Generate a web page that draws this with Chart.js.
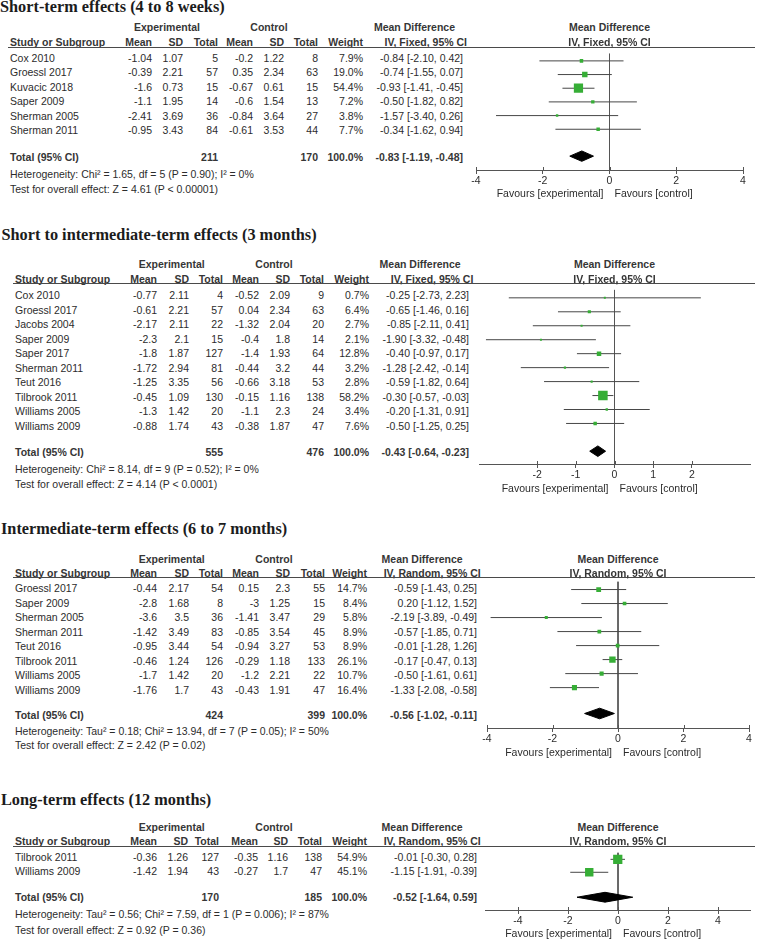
<!DOCTYPE html>
<html>
<head>
<meta charset="utf-8">
<title>Forest plots</title>
<script src="https://cdn.jsdelivr.net/npm/chart.js@4.4.1/dist/chart.umd.min.js"></script>
<style>
  body { margin: 0; background: #fff; }
  #page { position: relative; width: 761px; height: 940px; overflow: hidden;
          font-family: "Liberation Sans", Arial, sans-serif; font-size: 10.5px; color: #2c2c2c; }
  .tx { position: absolute; white-space: nowrap; line-height: 12px; transform: translateY(-50%); }
  .tx.c { transform: translate(-50%, -50%); }
  .b { font-weight: bold; color: #363636; }
  .ttl { font-family: "Liberation Serif", "Times New Roman", serif; font-weight: bold;
         font-size: 16.3px; line-height: 18px; color: #1c1c1c; }
  .rule { position: absolute; height: 0; border-top: 1px solid #4a4a4a; }
  .plot { position: absolute; }
</style>
</head>
<body>
<div id="page"></div>
<script>
// Short-term effects (4 to 8 weeks)
const stStudies = ['Cox 2010', 'Groessl 2017', 'Kuvacic 2018', 'Saper 2009', 'Sherman 2005', 'Sherman 2011'];
const stExpMean = [-1.04, -0.39, -1.6, -1.1, -2.41, -0.95];
const stExpSd   = [1.07, 2.21, 0.73, 1.95, 3.69, 3.43];
const stExpN    = [5, 57, 15, 14, 36, 84];
const stCtlMean = [-0.2, 0.35, -0.67, -0.6, -0.84, -0.61];
const stCtlSd   = [1.22, 2.34, 0.61, 1.54, 3.64, 3.53];
const stCtlN    = [8, 63, 15, 13, 27, 44];
const stWeight  = [7.9, 19.0, 54.4, 7.2, 3.8, 7.7];
const stMd      = [-0.84, -0.74, -0.93, -0.50, -1.57, -0.34];
const stLo      = [-2.10, -1.55, -1.41, -1.82, -3.40, -1.62];
const stHi      = [0.42, 0.07, -0.45, 0.82, 0.26, 0.94];
const stTotalN  = [211, 170];
const stPooled  = [-0.83, -1.19, -0.48];
const stHet  = 'Heterogeneity: Chi² = 1.65, df = 5 (P = 0.90); I² = 0%';
const stTest = 'Test for overall effect: Z = 4.61 (P < 0.00001)';
const stTicks = [-4, -2, 0, 2, 4];
const stTickLabels = ['-4', '-2', '0', '2', '4'];

// Short to intermediate-term effects (3 months)
const siStudies = ['Cox 2010', 'Groessl 2017', 'Jacobs 2004', 'Saper 2009', 'Saper 2017', 'Sherman 2011',
                   'Teut 2016', 'Tilbrook 2011', 'Williams 2005', 'Williams 2009'];
const siExpMean = [-0.77, -0.61, -2.17, -2.3, -1.8, -1.72, -1.25, -0.45, -1.3, -0.88];
const siExpSd   = [2.11, 2.21, 2.11, 2.1, 1.87, 2.94, 3.35, 1.09, 1.42, 1.74];
const siExpN    = [4, 57, 22, 15, 127, 81, 56, 130, 20, 43];
const siCtlMean = [-0.52, 0.04, -1.32, -0.4, -1.4, -0.44, -0.66, -0.15, -1.1, -0.38];
const siCtlSd   = [2.09, 2.34, 2.04, 1.8, 1.93, 3.2, 3.18, 1.16, 2.3, 1.87];
const siCtlN    = [9, 63, 20, 14, 64, 44, 53, 138, 24, 47];
const siWeight  = [0.7, 6.4, 2.7, 2.1, 12.8, 3.2, 2.8, 58.2, 3.4, 7.6];
const siMd      = [-0.25, -0.65, -0.85, -1.90, -0.40, -1.28, -0.59, -0.30, -0.20, -0.50];
const siLo      = [-2.73, -1.46, -2.11, -3.32, -0.97, -2.42, -1.82, -0.57, -1.31, -1.25];
const siHi      = [2.23, 0.16, 0.41, -0.48, 0.17, -0.14, 0.64, -0.03, 0.91, 0.25];
const siTotalN  = [555, 476];
const siPooled  = [-0.43, -0.64, -0.23];
const siHet  = 'Heterogeneity: Chi² = 8.14, df = 9 (P = 0.52); I² = 0%';
const siTest = 'Test for overall effect: Z = 4.14 (P < 0.0001)';
const siTicks = [-2, -1, 0, 1, 2];
const siTickLabels = ['-2', '-1', '0', '1', '2'];

// Intermediate-term effects (6 to 7 months)
const itStudies = ['Groessl 2017', 'Saper 2009', 'Sherman 2005', 'Sherman 2011', 'Teut 2016',
                   'Tilbrook 2011', 'Williams 2005', 'Williams 2009'];
const itExpMean = [-0.44, -2.8, -3.6, -1.42, -0.95, -0.46, -1.7, -1.76];
const itExpSd   = [2.17, 1.68, 3.5, 3.49, 3.44, 1.24, 1.42, 1.7];
const itExpN    = [54, 8, 36, 83, 54, 126, 20, 43];
const itCtlMean = [0.15, -3, -1.41, -0.85, -0.94, -0.29, -1.2, -0.43];
const itCtlSd   = [2.3, 1.25, 3.47, 3.54, 3.27, 1.18, 2.21, 1.91];
const itCtlN    = [55, 15, 29, 45, 53, 133, 22, 47];
const itWeight  = [14.7, 8.4, 5.8, 8.9, 8.9, 26.1, 10.7, 16.4];
const itMd      = [-0.59, 0.20, -2.19, -0.57, -0.01, -0.17, -0.50, -1.33];
const itLo      = [-1.43, -1.12, -3.89, -1.85, -1.28, -0.47, -1.61, -2.08];
const itHi      = [0.25, 1.52, -0.49, 0.71, 1.26, 0.13, 0.61, -0.58];
const itTotalN  = [424, 399];
const itPooled  = [-0.56, -1.02, -0.11];
const itHet  = 'Heterogeneity: Tau² = 0.18; Chi² = 13.94, df = 7 (P = 0.05); I² = 50%';
const itTest = 'Test for overall effect: Z = 2.42 (P = 0.02)';
const itTicks = [-4, -2, 0, 2, 4];
const itTickLabels = ['-4', '-2', '0', '2', '4'];

// Long-term effects (12 months)
const ltStudies = ['Tilbrook 2011', 'Williams 2009'];
const ltExpMean = [-0.36, -1.42];
const ltExpSd   = [1.26, 1.94];
const ltExpN    = [127, 43];
const ltCtlMean = [-0.35, -0.27];
const ltCtlSd   = [1.16, 1.7];
const ltCtlN    = [138, 47];
const ltWeight  = [54.9, 45.1];
const ltMd      = [-0.01, -1.15];
const ltLo      = [-0.30, -1.91];
const ltHi      = [0.28, -0.39];
const ltTotalN  = [170, 185];
const ltPooled  = [-0.52, -1.64, 0.59];
const ltHet  = 'Heterogeneity: Tau² = 0.56; Chi² = 7.59, df = 1 (P = 0.006); I² = 87%';
const ltTest = 'Test for overall effect: Z = 0.92 (P = 0.36)';
const ltTicks = [-4, -2, 0, 2, 4];
const ltTickLabels = ['-4', '-2', '0', '2', '4'];

const colHeads = ['Mean', 'SD', 'Total', 'Mean', 'SD', 'Total', 'Weight'];

// layout
const PAGE_W = 761, PLOT_LEFT = 420, PLOT_W = 341, ROW_H = 14.5, X_AXIS_H = 24;
const GREEN = '#36ae36', LINE = '#474747';

const panels = [
  { title: 'Short-term effects (4 to 8 weeks)', method: 'IV, Fixed, 95% CI',
    studies: stStudies, cols: [stExpMean, stExpSd, stExpN, stCtlMean, stCtlSd, stCtlN],
    weight: stWeight, md: stMd, lo: stLo, hi: stHi, totalN: stTotalN, pooled: stPooled,
    het: stHet, test: stTest, ticks: stTicks, tickLabels: stTickLabels,
    xMin: -4, xMax: 4, pxMin: 476, pxMax: 743,
    titleX: 0, titleY: 7, grpY: 27.3, hdrY: 42.3, lineY: 46.5, row0: 54.3, totalY: 155.3, axisY: 170,
    hetY: 174.3, testY: 189.3,
    left: 10, colX: [152, 183, 218, 253, 284, 318, 363], ciX: 463, expC: 167, ctlC: 269, mdR: 455, ivR: 467 },
  { title: 'Short to intermediate-term effects (3 months)', method: 'IV, Fixed, 95% CI',
    studies: siStudies, cols: [siExpMean, siExpSd, siExpN, siCtlMean, siCtlSd, siCtlN],
    weight: siWeight, md: siMd, lo: siLo, hi: siHi, totalN: siTotalN, pooled: siPooled,
    het: siHet, test: siTest, ticks: siTicks, tickLabels: siTickLabels,
    xMin: -3.5, xMax: 3.5, pxMin: 479, pxMax: 750,
    titleX: 1.5, titleY: 235, grpY: 264, hdrY: 279.3, lineY: 283.3, row0: 291.7, totalY: 451, axisY: 464.3,
    hetY: 469.3, testY: 484.3,
    left: 15, colX: [157, 189, 223, 259, 290, 324, 369], ciX: 469, expC: 171.7, ctlC: 274, mdR: 460.7, ivR: 473.3 },
  { title: 'Intermediate-term effects (6 to 7 months)', method: 'IV, Random, 95% CI',
    studies: itStudies, cols: [itExpMean, itExpSd, itExpN, itCtlMean, itCtlSd, itCtlN],
    weight: itWeight, md: itMd, lo: itLo, hi: itHi, totalN: itTotalN, pooled: itPooled,
    het: itHet, test: itTest, ticks: itTicks, tickLabels: itTickLabels,
    xMin: -4, xMax: 4, pxMin: 487, pxMax: 749,
    titleX: 1, titleY: 529, grpY: 559.3, hdrY: 572.7, lineY: 576.7, row0: 585, totalY: 713.3, axisY: 728.3,
    hetY: 731, testY: 745,
    left: 15, colX: [157, 189, 223, 259, 290, 325, 367], ciX: 477, expC: 171.7, ctlC: 274, mdR: 462.7, ivR: 480.7 },
  { title: 'Long-term effects (12 months)', method: 'IV, Random, 95% CI',
    studies: ltStudies, cols: [ltExpMean, ltExpSd, ltExpN, ltCtlMean, ltCtlSd, ltCtlN],
    weight: ltWeight, md: ltMd, lo: ltLo, hi: ltHi, totalN: ltTotalN, pooled: ltPooled,
    het: ltHet, test: ltTest, ticks: ltTicks, tickLabels: ltTickLabels,
    xMin: -5.3, xMax: 5.3, pxMin: 485.5, pxMax: 750.5,
    titleX: 1, titleY: 800, grpY: 826.7, hdrY: 841, lineY: 845.7, row0: 853.3, totalY: 895.7, axisY: 910,
    hetY: 914.3, testY: 930,
    left: 15, colX: [157, 188, 219, 258, 288, 322, 367], ciX: 477, expC: 171.7, ctlC: 274, mdR: 462.7, ivR: 480.7 }
];

const page = document.getElementById('page');

function txt(s, x, y, align, cls) {
  const d = document.createElement('div');
  d.className = 'tx' + (cls ? ' ' + cls : '') + (align === 'c' ? ' c' : '');
  d.textContent = s;
  d.style.top = y + 'px';
  if (align === 'r') d.style.right = (PAGE_W - x) + 'px';
  else d.style.left = x + 'px';
  page.appendChild(d);
}

const ci = (m, l, h) => `${m.toFixed(2)} [${l.toFixed(2)}, ${h.toFixed(2)}]`;

// short tick marks above the axis line, so each tick crosses it like in RevMan
const crossTicks = {
  id: 'crossTicks',
  afterDraw(chart) {
    const x = chart.scales.x, ctx = chart.ctx, y0 = chart.chartArea.bottom;
    ctx.save();
    ctx.strokeStyle = '#555';
    ctx.lineWidth = 1;
    x.ticks.forEach(t => {
      const px = Math.round(x.getPixelForValue(t.value)) + 0.5;
      ctx.beginPath();
      ctx.moveTo(px, y0 - 3);
      ctx.lineTo(px, y0);
      ctx.stroke();
    });
    ctx.restore();
  }
};

function forest(p) {
  const H = p.axisY - p.lineY + X_AXIS_H;
  const wrap = document.createElement('div');
  wrap.className = 'plot';
  wrap.style.left = PLOT_LEFT + 'px';
  wrap.style.top = p.lineY + 'px';
  const cv = document.createElement('canvas');
  cv.width = PLOT_W; cv.height = H;
  wrap.appendChild(cv);
  page.appendChild(wrap);

  const yTop = -(p.row0 - p.lineY) / ROW_H;
  const yBot = (p.axisY - p.row0) / ROW_H;
  const yTot = (p.totalY - p.row0) / ROW_H;
  const dh = 0.38;
  const rows = p.md.map((_, k) => k);
  const [est, plo, phi] = p.pooled;

  const datasets = [
    { data: rows.map(k => ({ x: p.md[k], y: k })), pointStyle: 'rect',
      pointRadius: p.weight.map(w => Math.max(2, 1.25 * Math.sqrt(w)) / Math.SQRT2),
      backgroundColor: GREEN, borderWidth: 0, order: 0 },
    { data: [{ x: plo, y: yTot }, { x: est, y: yTot - dh }, { x: phi, y: yTot },
             { x: est, y: yTot + dh }, { x: plo, y: yTot }],
      showLine: true, fill: 'shape', backgroundColor: '#000', borderColor: '#000',
      borderWidth: 1, pointRadius: 0, order: 1 },
    ...rows.map(k => ({ data: [{ x: p.lo[k], y: k }, { x: p.hi[k], y: k }],
      showLine: true, borderColor: LINE, borderWidth: 1, pointRadius: 0, order: 2 })),
    { data: [{ x: 0, y: yTop }, { x: 0, y: yBot }], showLine: true,
      borderColor: '#555', borderWidth: 1, pointRadius: 0, order: 3 }
  ];

  return new Chart(cv, {
    type: 'scatter',
    data: { datasets },
    plugins: [crossTicks],
    options: {
      responsive: false, animation: false, devicePixelRatio: 1, events: [],
      layout: { padding: { left: p.pxMin - PLOT_LEFT, right: PLOT_LEFT + PLOT_W - p.pxMax, top: 0, bottom: 0 } },
      plugins: { legend: { display: false }, tooltip: { enabled: false } },
      scales: {
        x: {
          type: 'linear', min: p.xMin, max: p.xMax,
          afterBuildTicks: s => { s.ticks = p.ticks.map(v => ({ value: v })); },
          afterFit: s => { s.height = X_AXIS_H; },
          grid: { drawOnChartArea: false, drawTicks: true, tickLength: 4, color: '#555' },
          border: { display: true, color: '#555', width: 1 },
          ticks: {
            font: { family: 'Liberation Sans', size: 10.5 }, color: '#2c2c2c', padding: 1,
            maxRotation: 0, autoSkip: false,
            callback: v => p.tickLabels[p.ticks.indexOf(v)]
          }
        },
        y: { type: 'linear', display: false, reverse: true, min: yTop, max: yBot }
      }
    }
  });
}

panels.forEach(p => {
  txt(p.title, p.titleX, p.titleY, 'l', 'ttl');

  // header
  txt('Experimental', p.expC, p.grpY, 'c', 'b');
  txt('Control', p.ctlC, p.grpY, 'c', 'b');
  txt('Mean Difference', p.mdR, p.grpY, 'r', 'b');
  txt('Study or Subgroup', p.left, p.hdrY, 'l', 'b');
  colHeads.forEach((h, j) => txt(h, p.colX[j], p.hdrY, 'r', 'b'));
  txt(p.method, p.ivR, p.hdrY, 'r', 'b');
  const rule = document.createElement('div');
  rule.className = 'rule';
  rule.style.left = (p.left - 2) + 'px';
  rule.style.width = (PAGE_W - p.left - 4) + 'px';
  rule.style.top = p.lineY + 'px';
  page.appendChild(rule);

  // study rows
  p.studies.forEach((s, k) => {
    const y = p.row0 + k * ROW_H + 3.3;
    txt(s, p.left, y, 'l');
    p.cols.forEach((arr, j) => txt(String(arr[k]), p.colX[j], y, 'r'));
    txt(p.weight[k].toFixed(1) + '%', p.colX[6], y, 'r');
    txt(ci(p.md[k], p.lo[k], p.hi[k]), p.ciX, y, 'r');
  });

  // total row
  const ty = p.totalY + 1.4;
  txt('Total (95% CI)', p.left, ty, 'l', 'b');
  txt(String(p.totalN[0]), p.colX[2], ty, 'r', 'b');
  txt(String(p.totalN[1]), p.colX[5], ty, 'r', 'b');
  txt('100.0%', p.colX[6], ty, 'r', 'b');
  txt(ci(p.pooled[0], p.pooled[1], p.pooled[2]), p.ciX, ty, 'r', 'b');
  txt(p.het, p.left, p.hetY, 'l');
  txt(p.test, p.left, p.testY, 'l');

  const ch = forest(p);
  const zx = PLOT_LEFT + ch.scales.x.getPixelForValue(0);
  txt('Mean Difference', zx, p.grpY, 'c', 'b');
  txt(p.method, zx, p.hdrY, 'c', 'b');
  txt('Favours [experimental]', zx - 6, p.axisY + 23.3, 'r');
  txt('Favours [control]', zx + 5, p.axisY + 23.3, 'l');
});
</script>
</body>
</html>
